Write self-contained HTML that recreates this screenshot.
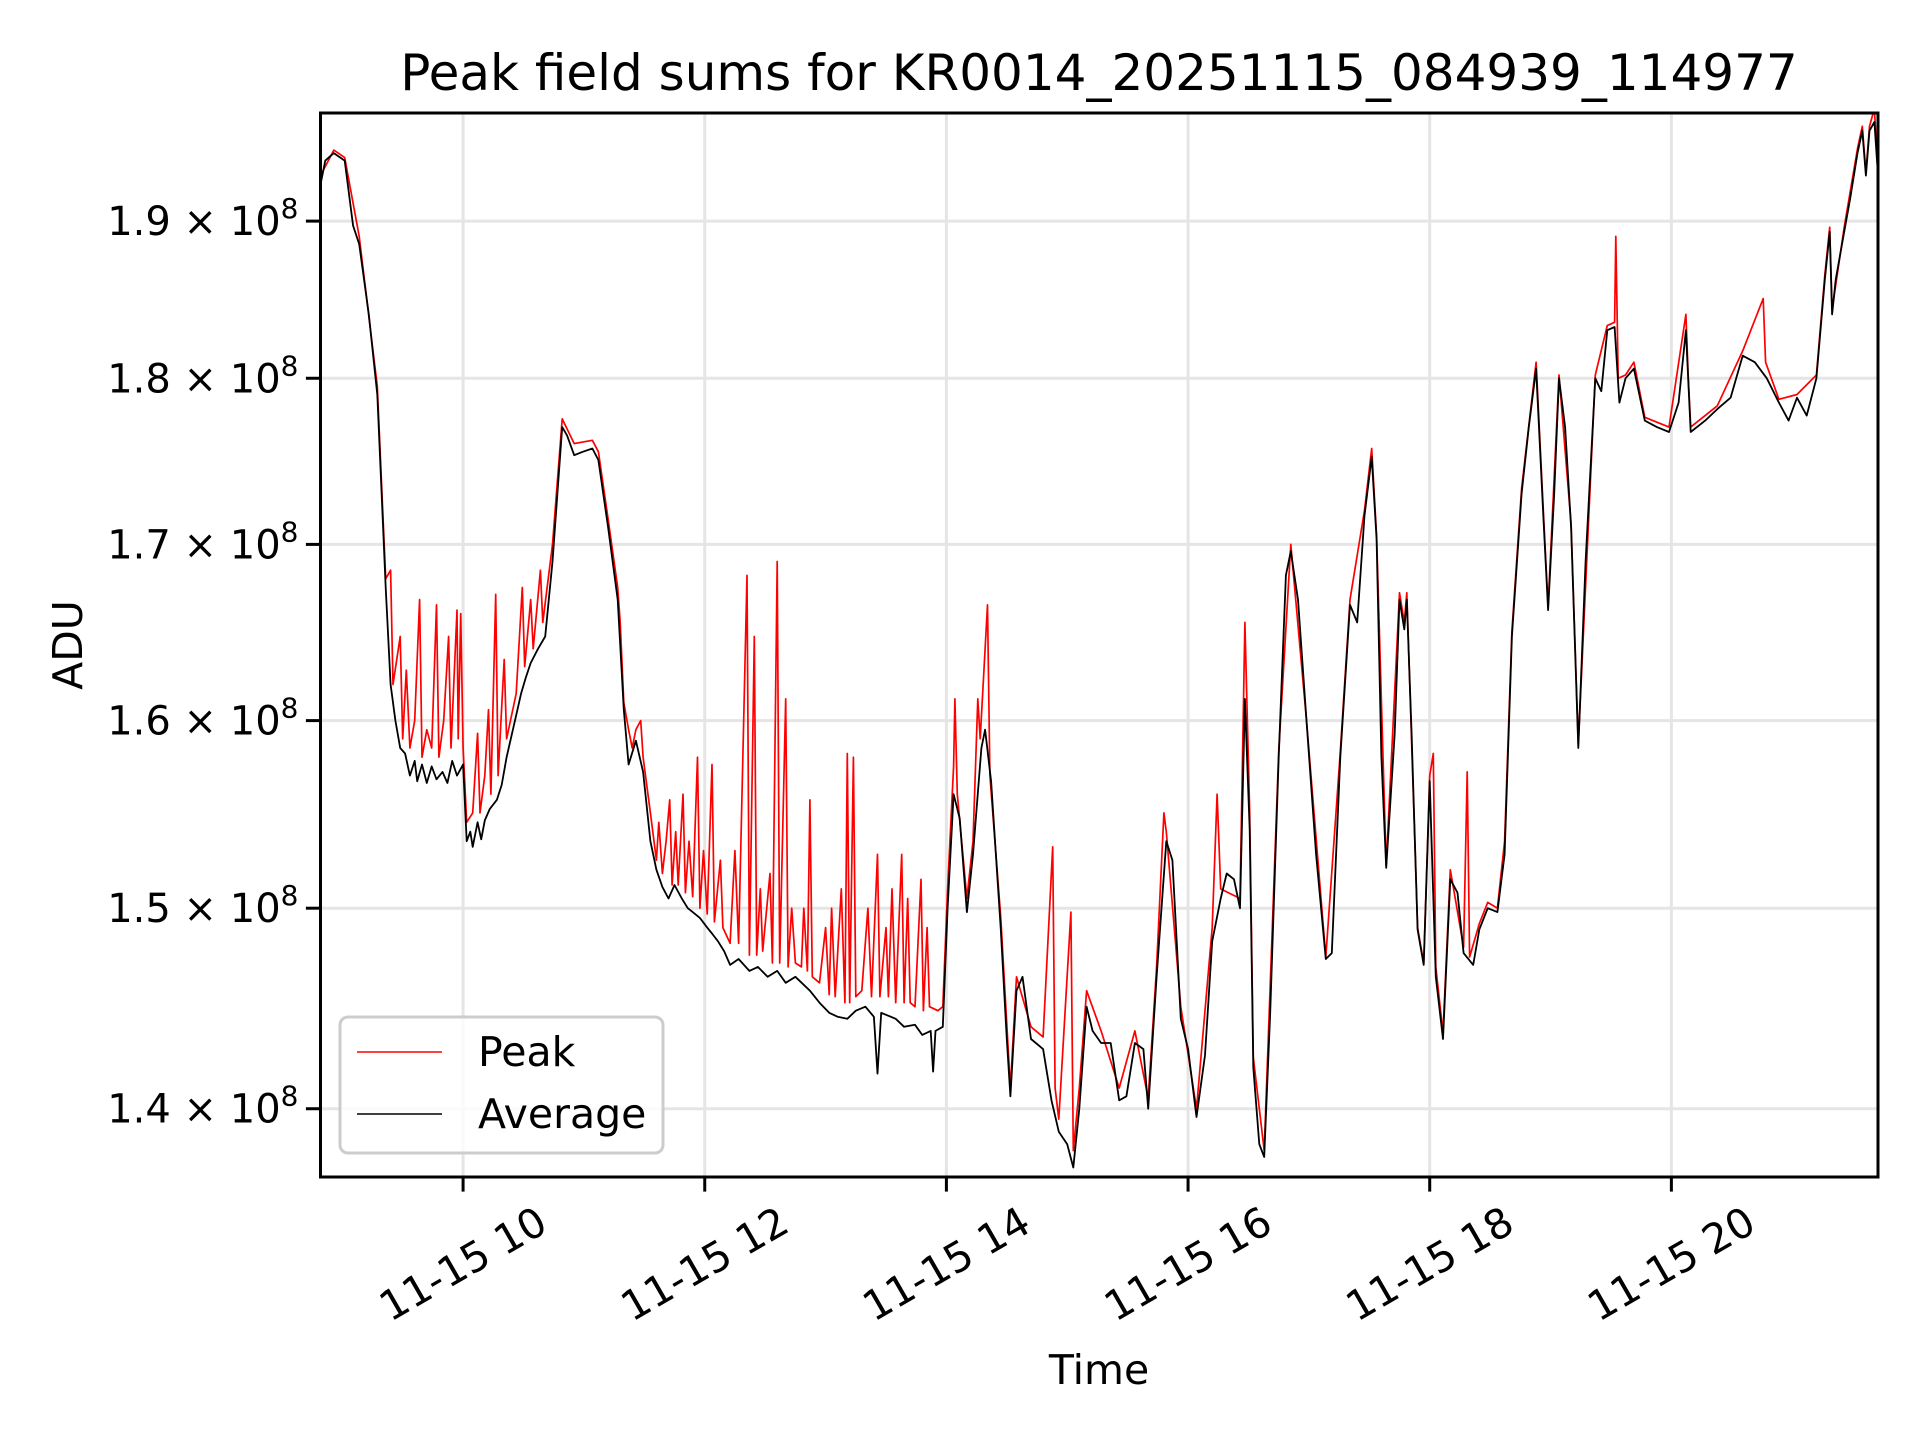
<!DOCTYPE html>
<html><head><meta charset="utf-8"><style>
html,body{margin:0;padding:0;background:#fff;}
svg{display:block;font-family:"DejaVu Sans","Liberation Sans",sans-serif;}
</style></head><body>
<svg id="chart" width="1920" height="1440" viewBox="0 0 1920 1440">
<rect width="1920" height="1440" fill="#fff"/>
<text x="1099" y="73" font-size="50" text-anchor="middle" dominant-baseline="central">Peak field sums for KR0014_20251115_084939_114977</text>
<g id="grid"></g>
<g id="series"></g>
<rect x="320.5" y="113" width="1557.5" height="1064" fill="none" stroke="#000" stroke-width="3"/>
<g id="ticks"></g>
<text x="1099" y="1370" font-size="41" text-anchor="middle" dominant-baseline="central">Time</text>
<text x="68" y="645" font-size="41" text-anchor="middle" dominant-baseline="central" transform="rotate(-90 68 645)">ADU</text>
<g>
<rect x="340" y="1017" width="323" height="136" rx="8" fill="#fff" fill-opacity="0.8" stroke="#ccc" stroke-width="3"/>
<line x1="357" y1="1052" x2="442" y2="1052" stroke="#f00" stroke-width="1.6"/>
<text x="478" y="1052" font-size="41" dominant-baseline="central">Peak</text>
<line x1="357" y1="1114" x2="442" y2="1114" stroke="#000" stroke-width="1.6"/>
<text x="478" y="1114" font-size="41" dominant-baseline="central">Average</text>
</g>
</svg>
<script>
const xTickHours=[10,12,14,16,18,20];
const xTickLabels=["11-15 10","11-15 12","11-15 14","11-15 16","11-15 18","11-15 20"];
const yTickValues=[1.4,1.5,1.6,1.7,1.8,1.9];
const yTickMantissas=["1.4","1.5","1.6","1.7","1.8","1.9"];
const avgTimes=[8.82,8.86,8.93,9.02,9.09,9.14,9.22,9.29,9.32,9.36,9.40,9.44,9.48,9.52,9.56,9.60,9.62,9.66,9.70,9.74,9.78,9.83,9.87,9.91,9.95,10.00,10.03,10.06,10.08,10.12,10.15,10.18,10.22,10.28,10.32,10.36,10.44,10.48,10.52,10.56,10.62,10.68,10.74,10.82,10.86,10.92,10.99,11.07,11.12,11.20,11.28,11.33,11.37,11.43,11.49,11.55,11.60,11.65,11.70,11.75,11.81,11.86,11.90,11.96,12.02,12.06,12.11,12.16,12.21,12.28,12.37,12.44,12.52,12.60,12.67,12.75,12.87,12.95,13.03,13.10,13.18,13.25,13.33,13.40,13.43,13.46,13.58,13.65,13.74,13.80,13.87,13.89,13.91,13.97,14.01,14.06,14.11,14.17,14.22,14.29,14.32,14.37,14.45,14.50,14.53,14.58,14.63,14.70,14.80,14.87,14.93,15.00,15.05,15.10,15.16,15.21,15.28,15.36,15.43,15.49,15.56,15.63,15.67,15.74,15.82,15.87,15.94,16.00,16.07,16.14,16.20,16.27,16.32,16.38,16.43,16.47,16.51,16.54,16.59,16.63,16.68,16.75,16.81,16.85,16.91,16.98,17.06,17.14,17.19,17.26,17.34,17.40,17.46,17.52,17.56,17.60,17.64,17.71,17.75,17.79,17.81,17.85,17.90,17.95,18.00,18.05,18.11,18.17,18.23,18.28,18.36,18.41,18.48,18.56,18.62,18.68,18.76,18.82,18.88,18.94,18.98,19.03,19.07,19.12,19.17,19.23,19.29,19.37,19.42,19.47,19.53,19.57,19.62,19.69,19.78,19.88,19.98,20.06,20.12,20.16,20.28,20.38,20.49,20.59,20.69,20.79,20.89,20.97,21.04,21.12,21.20,21.27,21.31,21.33,21.36,21.43,21.48,21.54,21.58,21.61,21.64,21.68,21.71];
const avgValues=[1.924,1.94,1.945,1.94,1.897,1.885,1.84,1.79,1.74,1.675,1.62,1.60,1.585,1.582,1.57,1.578,1.567,1.576,1.566,1.575,1.568,1.572,1.566,1.578,1.570,1.576,1.535,1.540,1.532,1.545,1.536,1.546,1.552,1.557,1.565,1.58,1.603,1.615,1.624,1.632,1.64,1.647,1.69,1.77,1.765,1.753,1.755,1.757,1.75,1.71,1.668,1.606,1.576,1.589,1.572,1.535,1.52,1.511,1.505,1.512,1.505,1.500,1.498,1.495,1.490,1.487,1.483,1.478,1.471,1.474,1.468,1.470,1.465,1.468,1.462,1.465,1.458,1.452,1.447,1.445,1.444,1.448,1.45,1.445,1.417,1.447,1.444,1.440,1.441,1.436,1.438,1.418,1.438,1.440,1.50,1.56,1.547,1.498,1.528,1.585,1.595,1.567,1.489,1.434,1.406,1.458,1.465,1.434,1.429,1.404,1.389,1.383,1.372,1.40,1.45,1.438,1.432,1.432,1.404,1.406,1.432,1.429,1.40,1.465,1.535,1.525,1.444,1.429,1.396,1.426,1.483,1.505,1.518,1.515,1.50,1.612,1.541,1.42,1.383,1.377,1.447,1.58,1.682,1.696,1.668,1.60,1.528,1.474,1.477,1.58,1.665,1.655,1.717,1.752,1.703,1.58,1.521,1.593,1.668,1.651,1.668,1.593,1.489,1.471,1.567,1.465,1.434,1.515,1.508,1.477,1.471,1.489,1.50,1.498,1.528,1.647,1.73,1.77,1.806,1.717,1.662,1.73,1.80,1.77,1.71,1.585,1.69,1.80,1.792,1.83,1.832,1.785,1.80,1.806,1.774,1.77,1.767,1.785,1.83,1.767,1.774,1.781,1.788,1.814,1.81,1.80,1.785,1.774,1.788,1.777,1.80,1.862,1.893,1.84,1.862,1.893,1.915,1.945,1.96,1.93,1.96,1.966,1.93];
const peakTimes=[8.82,8.93,9.02,9.14,9.29,9.36,9.40,9.42,9.48,9.50,9.53,9.56,9.60,9.64,9.66,9.70,9.74,9.78,9.80,9.84,9.88,9.90,9.95,9.96,9.98,10.00,10.03,10.08,10.12,10.14,10.18,10.21,10.23,10.27,10.29,10.34,10.36,10.44,10.49,10.51,10.56,10.58,10.64,10.66,10.74,10.82,10.92,11.07,11.12,11.20,11.28,11.30,11.33,11.37,11.40,11.43,11.47,11.49,11.55,11.60,11.62,11.65,11.68,11.71,11.73,11.76,11.78,11.82,11.84,11.87,11.90,11.94,11.96,11.99,12.02,12.06,12.08,12.13,12.15,12.21,12.25,12.28,12.35,12.37,12.41,12.43,12.46,12.48,12.54,12.56,12.60,12.62,12.67,12.69,12.72,12.75,12.80,12.82,12.85,12.87,12.89,12.95,13.00,13.03,13.05,13.08,13.13,13.16,13.18,13.20,13.23,13.25,13.30,13.35,13.38,13.43,13.45,13.50,13.52,13.55,13.58,13.63,13.65,13.68,13.70,13.74,13.79,13.81,13.84,13.86,13.93,13.97,14.01,14.06,14.07,14.09,14.17,14.22,14.26,14.28,14.34,14.36,14.45,14.53,14.58,14.70,14.80,14.88,14.90,14.93,15.03,15.05,15.10,15.16,15.28,15.43,15.56,15.67,15.74,15.80,15.82,15.94,16.07,16.20,16.24,16.27,16.43,16.47,16.51,16.54,16.63,16.75,16.85,16.98,17.14,17.26,17.34,17.46,17.52,17.56,17.64,17.75,17.79,17.81,17.90,17.95,18.00,18.03,18.05,18.11,18.17,18.28,18.31,18.33,18.41,18.48,18.56,18.62,18.68,18.76,18.88,18.94,18.98,19.07,19.17,19.23,19.37,19.47,19.53,19.54,19.56,19.62,19.69,19.78,19.98,20.12,20.14,20.16,20.38,20.59,20.76,20.78,20.89,21.04,21.20,21.27,21.31,21.33,21.43,21.54,21.58,21.61,21.64,21.68,21.71];
const peakValues=[1.93,1.947,1.942,1.89,1.795,1.68,1.685,1.62,1.647,1.59,1.628,1.585,1.60,1.668,1.58,1.595,1.585,1.665,1.58,1.60,1.647,1.585,1.662,1.59,1.66,1.585,1.545,1.55,1.593,1.55,1.57,1.606,1.56,1.671,1.57,1.634,1.59,1.615,1.675,1.63,1.668,1.64,1.685,1.655,1.70,1.775,1.76,1.762,1.755,1.715,1.675,1.655,1.61,1.595,1.585,1.595,1.60,1.58,1.55,1.525,1.545,1.518,1.535,1.557,1.512,1.54,1.512,1.56,1.508,1.535,1.506,1.58,1.50,1.53,1.497,1.576,1.493,1.525,1.49,1.482,1.53,1.482,1.682,1.476,1.647,1.476,1.51,1.478,1.518,1.472,1.69,1.472,1.612,1.47,1.50,1.472,1.47,1.50,1.468,1.557,1.465,1.462,1.49,1.456,1.50,1.455,1.51,1.452,1.582,1.452,1.58,1.455,1.458,1.50,1.455,1.528,1.455,1.49,1.455,1.51,1.452,1.528,1.452,1.505,1.452,1.45,1.515,1.448,1.49,1.45,1.448,1.45,1.51,1.575,1.612,1.56,1.505,1.535,1.612,1.59,1.665,1.57,1.495,1.41,1.465,1.44,1.435,1.532,1.41,1.395,1.498,1.38,1.41,1.458,1.438,1.41,1.438,1.405,1.47,1.55,1.54,1.45,1.40,1.49,1.56,1.51,1.505,1.655,1.55,1.425,1.38,1.583,1.70,1.60,1.475,1.583,1.668,1.72,1.757,1.705,1.522,1.672,1.655,1.672,1.49,1.472,1.57,1.582,1.47,1.437,1.52,1.48,1.572,1.475,1.492,1.503,1.50,1.535,1.65,1.733,1.81,1.72,1.664,1.802,1.712,1.587,1.802,1.833,1.835,1.89,1.80,1.802,1.81,1.776,1.77,1.84,1.80,1.77,1.783,1.817,1.85,1.81,1.787,1.79,1.802,1.865,1.896,1.843,1.896,1.948,1.963,1.932,1.963,1.975,1.93];

const NS="http://www.w3.org/2000/svg";
const L=320.5,R=1878,T=113,B=1177;
const tMin=8.82,tMax=21.71;
const yTopLog=Math.log10(1.972),yBotLog=Math.log10(1.3675);
function xScale(t){return L+(t-tMin)/(tMax-tMin)*(R-L);}
function yScale(v){return T+(yTopLog-Math.log10(v))/(yTopLog-yBotLog)*(B-T);}
function mk(tag,attrs,parent){const e=document.createElementNS(NS,tag);for(const k in attrs)e.setAttribute(k,attrs[k]);parent.appendChild(e);return e;}
const grid=document.getElementById('grid'),ticks=document.getElementById('ticks'),series=document.getElementById('series');
xTickHours.forEach((h,i)=>{
  const x=xScale(h);
  const g=mk('line',{x1:x,y1:T,x2:x,y2:B,stroke:'#e5e5e5','stroke-width':3},grid);
  
  
  const tk=mk('line',{x1:x,y1:B,x2:x,y2:B+14.6,stroke:'#000','stroke-width':3},ticks);
  
  
  const cy=1264;
  const tx=mk('text',{x:x,y:cy,'font-size':41,'text-anchor':'middle','dominant-baseline':'central',transform:`rotate(-30 ${x} ${cy})`},ticks);
  tx.textContent=xTickLabels[i];
  
  
});
yTickValues.forEach((v,i)=>{
  const y=yScale(v);
  const g=mk('line',{x1:L,y1:y,x2:R,y2:y,stroke:'#e5e5e5','stroke-width':3},grid);
  
  
  const tk=mk('line',{x1:L-14.6,y1:y,x2:L,y2:y,stroke:'#000','stroke-width':3},ticks);
  
  
  const tx=mk('text',{x:L-22,y:y+14,'font-size':40,'text-anchor':'end'},ticks);
  
  
  const a=document.createElementNS(NS,'tspan');a.textContent=yTickMantissas[i]+" \u00d7 10";tx.appendChild(a);
  const b=document.createElementNS(NS,'tspan');b.setAttribute('dy','-17');b.setAttribute('font-size','28');b.textContent="8";tx.appendChild(b);
});
function path(ts,vs){return ts.map((t,i)=>(i?'L':'M')+xScale(t).toFixed(1)+','+yScale(vs[i]).toFixed(1)).join('');}
const clip=mk('clipPath',{id:'pc'},series);
mk('rect',{x:L,y:T,width:R-L,height:B-T},clip);
const pk=mk('path',{d:path(peakTimes,peakValues),fill:'none',stroke:'#f00','stroke-width':1.7,'clip-path':'url(#pc)','stroke-linejoin':'round'},series);


const av=mk('path',{d:path(avgTimes,avgValues),fill:'none',stroke:'#000','stroke-width':1.8,'clip-path':'url(#pc)','stroke-linejoin':'round'},series);


</script>
</body></html>
